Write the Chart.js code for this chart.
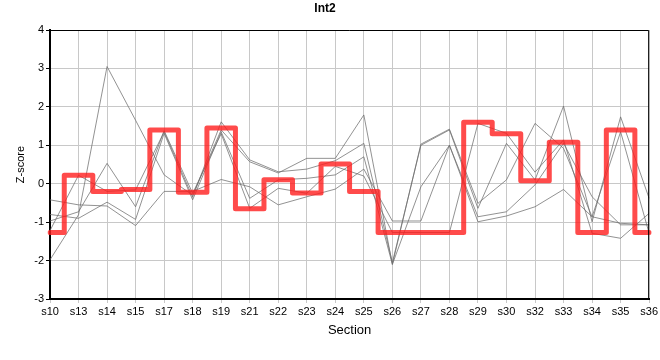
<!DOCTYPE html>
<html>
<head>
<meta charset="utf-8">
<title>Int2</title>
<script src="https://cdn.jsdelivr.net/npm/chart.js@4.4.1/dist/chart.umd.min.js"></script>
<style>
  html, body { margin: 0; padding: 0; background: #fff; }
  #wrap { width: 660px; height: 360px; }
</style>
</head>
<body>
<div id="wrap"><canvas id="c" width="660" height="360"></canvas></div>
<script>
const categories = ['s10','s13','s14','s15','s17','s18','s19','s21','s22','s23','s24','s25','s26','s27','s28','s29','s30','s32','s33','s34','s35','s36'];

const int2 = [-1.27, 0.22, -0.2, -0.15, 1.4, -0.22, 1.45, -0.65, 0.1, -0.24, 0.51, -0.2, -1.27, -1.27, -1.27, 1.6, 1.3, 0.08, 1.08, -1.27, 1.4, -1.27];

const sampleA = [-1.98, -0.81, 3.05, 1.65, 0.23, -0.3, 1.4, 0.57, 0.28, 0.66, 0.66, 1.79, -2.1, 1.03, 1.42, -0.51, 0.1, 1.57, 0.92, -0.86, 1.35, -1.29];
const sampleB = [-1.22, 0.22, -0.2, -0.16, 1.35, -0.35, 1.61, 0.62, 0.31, 0.38, 0.6, 1.05, -2.05, 1.0, 1.4, -0.64, 1.05, 0.1, 2.02, -0.99, 1.74, -0.38];
const sampleC = [-0.42, -0.55, -0.58, -1.09, -0.2, -0.2, 0.11, -0.08, -0.55, -0.34, -0.14, 0.38, -0.97, -0.97, 1.0, -0.86, -0.73, -0.03, 1.05, -0.34, -1.07, -1.07];
const sampleD = [-0.8, -0.9, -0.48, -0.93, 1.31, -0.42, 1.35, -0.38, 0.1, 0.14, 0.23, 0.7, -2.1, -0.08, 1.0, -0.99, -0.84, -0.6, -0.15, -0.86, -1.03, -1.07];
const sampleE = [-0.97, -0.73, 0.53, -0.6, 1.38, -0.25, 1.3, -0.64, -0.12, -0.25, 0.45, 0.2, -1.27, -1.27, -1.27, 1.57, 1.31, 0.3, 1.14, -1.29, -1.42, -0.77];

const yMin = -3;
const yMax = 4;

const FONT = '"Liberation Sans", Arial, sans-serif';
const grayStyle = { borderColor: 'rgba(110,110,110,0.75)', borderWidth: 1, pointRadius: 0, fill: false, tension: 0 };

const frame = {
  id: 'frame',
  afterDraw(chart) {
    const { ctx, chartArea: a } = chart;
    ctx.save();
    ctx.strokeStyle = '#000';
    ctx.lineWidth = 1;
    ctx.beginPath();
    ctx.moveTo(a.left, a.top + 0.5);
    ctx.lineTo(a.right - 0.5, a.top + 0.5);
    ctx.lineTo(a.right - 0.5, a.bottom);
    ctx.stroke();
    ctx.restore();
  }
};

new Chart(document.getElementById('c'), {
  type: 'line',
  data: {
    labels: categories,
    datasets: [
      { label: 'Int2', data: int2, stepped: 'middle', borderColor: 'rgba(255,30,30,0.8)', borderWidth: 5, pointRadius: 0, fill: false, order: 0, borderJoinStyle: 'round', borderCapStyle: 'round' },
      Object.assign({ label: 'A', data: sampleA, order: 1 }, grayStyle),
      Object.assign({ label: 'B', data: sampleB, order: 1 }, grayStyle),
      Object.assign({ label: 'C', data: sampleC, order: 1 }, grayStyle),
      Object.assign({ label: 'D', data: sampleD, order: 1 }, grayStyle),
      Object.assign({ label: 'E', data: sampleE, order: 1 }, grayStyle)
    ]
  },
  options: {
    responsive: false,
    animation: false,
    devicePixelRatio: 1,
    layout: { padding: { left: 0, right: 10, top: 0, bottom: 0 } },
    plugins: {
      legend: { display: false },
      tooltip: { enabled: false },
      title: {
        display: true,
        text: 'Int2',
        color: '#000',
        font: { family: FONT, size: 12, weight: 'bold', lineHeight: 1.2 },
        padding: { top: 1.5, bottom: 14.1 }
      }
    },
    scales: {
      x: {
        type: 'category',
        offset: false,
        grid: { color: '#c8c8c8', lineWidth: 1, tickLength: 4, tickColor: '#c8c8c8', drawTicks: true },
        border: { color: '#000', width: 2 },
        ticks: { color: '#000', autoSkip: false, maxRotation: 0, padding: 2, font: { family: FONT, size: 11 } },
        title: { display: true, text: 'Section', color: '#000', font: { family: FONT, size: 13, lineHeight: 1.2 }, padding: { top: 0, bottom: 21.6 } },
        afterFit(scale) { scale.height = 61; }
      },
      y: {
        min: yMin,
        max: yMax,
        grid: { color: '#c8c8c8', lineWidth: 1, tickLength: 4, tickColor: '#000' },
        border: { color: '#000', width: 2 },
        ticks: { stepSize: 1, color: '#000', padding: 2, font: { family: FONT, size: 11 } },
        title: { display: true, text: 'Z-score', color: '#000', font: { family: FONT, size: 11, lineHeight: 1.2 }, padding: { top: 14.4, bottom: 0 } },
        afterFit(scale) { scale.width = 50; }
      }
    }
  },
  plugins: [frame]
});
</script>
</body>
</html>
